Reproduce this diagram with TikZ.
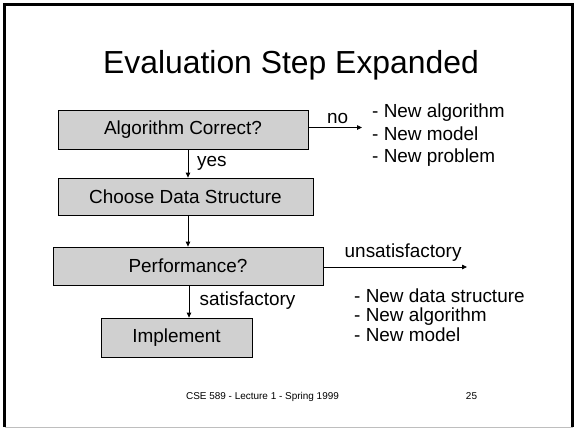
\documentclass[tikz,border=0pt]{standalone}
\usepackage{fontspec}
\setmainfont{Liberation Sans}
\usetikzlibrary{arrows.meta}
\definecolor{boxgray}{RGB}{208,208,208}
\definecolor{edgegray}{RGB}{190,190,190}
\begin{document}
\begin{tikzpicture}[x=1bp,y=-1bp,
  stepbox/.style={draw=black,line width=0.8bp,fill=boxgray,inner sep=0pt,
    font=\fontsize{19}{23}\selectfont},
  lbl/.style={anchor=base west,inner sep=0pt,font=\fontsize{19}{23}\selectfont},
  arr/.style={line width=0.8bp,-{Triangle[length=5bp,width=4.5bp]}}]
\useasboundingbox (0,0) rectangle (574,430);
% slide frame
\draw[edgegray,line width=1.2bp] (4.5,427.3) -- (572.5,427.3);
\draw[black,line width=2.6bp] (4.3,427) -- (4.3,4.3) -- (572.2,4.3) -- (572.2,427);
% title
\node[anchor=base,inner sep=0pt,font=\fontsize{32}{38}\selectfont] (title) at (291,73) {Evaluation Step Expanded};
% flow boxes
\node[stepbox,minimum width=250bp,minimum height=39bp] (b1) at (183,129.5) {Algorithm Correct?};
\node[stepbox,minimum width=255bp,minimum height=37bp] (b2) at (185.5,196.5) {Choose Data Structure};
\node[stepbox,minimum width=270bp,minimum height=38bp] (b3) at (188,266) {Performance?};
\node[stepbox,minimum width=151bp,minimum height=39bp] (b4) at (176.5,337.5) {Implement};
% vertical connectors
\coordinate (xa) at (188,0);
\coordinate (xb) at (189,0);
\draw[arr] (b1.south -| xa) -- (b2.north -| xa);
\draw[arr] (b2.south -| xa) -- (b3.north -| xa);
\draw[arr] (b3.south -| xb) -- (b4.north -| xb);
% side exits
\coordinate (noEnd) at (362,127.5);
\coordinate (unsEnd) at (467,267);
\draw[arr] (b1.east |- noEnd) -- (noEnd);
\draw[arr] (b3.east |- unsEnd) -- (unsEnd);
% branch labels
\node[lbl] (yes) at (197,166) {yes};
\node[lbl] (no) at (327,123) {no};
\node[lbl] (sat) at (199.5,305) {satisfactory};
\node[lbl] (uns) at (344.5,257.5) {unsatisfactory};
% alternatives after a wrong algorithm
\node[lbl] (la) at (372,117.5) {- New algorithm};
\node[lbl] (lb) at (372,140) {- New model};
\node[lbl] (lc) at (372,162.5) {- New problem};
% alternatives after poor performance
\node[lbl] (ma) at (354,302) {- New data structure};
\node[lbl] (mb) at (354,321.5) {- New algorithm};
\node[lbl] (mc) at (354,341) {- New model};
% footer
\node[anchor=base,inner sep=0pt,font=\fontsize{10}{12}\selectfont] (foot) at (262.5,399) {CSE 589 - Lecture 1 - Spring 1999};
\node[anchor=base,inner sep=0pt,font=\fontsize{10}{12}\selectfont] (page) at (471.5,399) {25};
\end{tikzpicture}
\end{document}
